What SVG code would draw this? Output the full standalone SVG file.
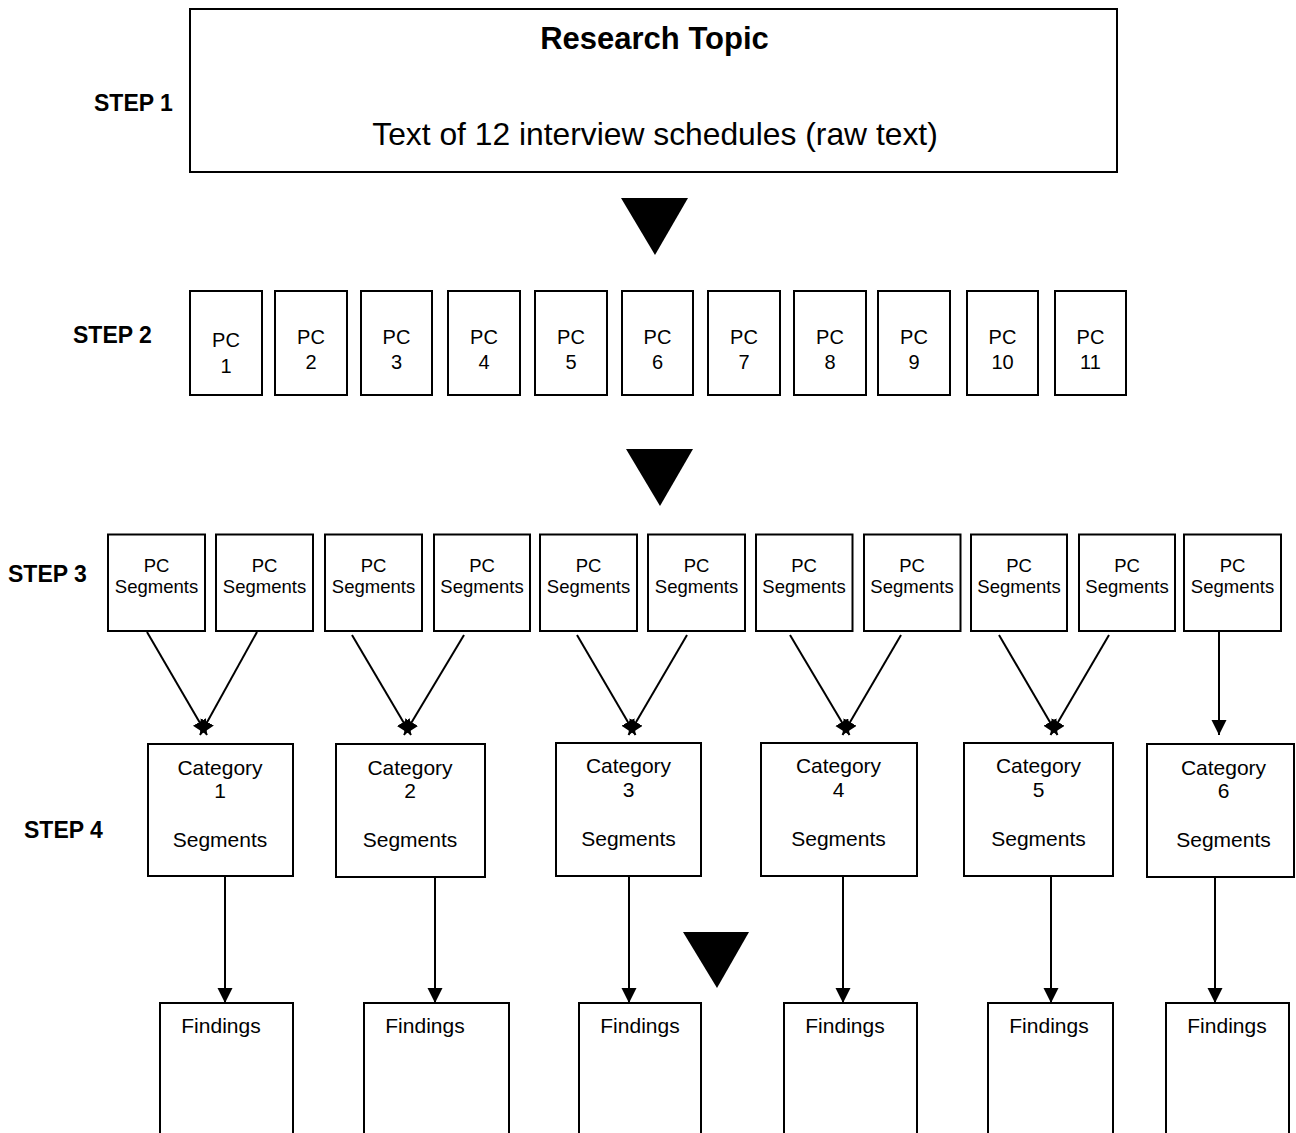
<svg xmlns="http://www.w3.org/2000/svg" width="1296" height="1133" viewBox="0 0 1296 1133">
<style>
.box{fill:#fff;stroke:#000;stroke-width:2}
.t{font-family:"Liberation Sans",Arial,sans-serif;fill:#000;text-anchor:middle}
.step{font-family:"Liberation Sans",Arial,sans-serif;font-weight:bold;font-size:23px;fill:#000}
.pc2{font-size:20px}
.pc3{font-size:18.5px}
.cat{font-size:21px}
.conn{stroke:#000;stroke-width:2;fill:none}
.big{fill:#000}
</style>
<defs>
<marker id="ah" markerUnits="userSpaceOnUse" markerWidth="16" markerHeight="16" refX="15" refY="7.5" orient="auto" viewBox="0 0 16 16">
<path d="M0,0 L15,7.5 L0,15 z" fill="#000"/>
</marker>
</defs>
<rect width="1296" height="1133" fill="#fff"/>

<text class="step" x="94" y="111">STEP 1</text>
<text class="step" x="73" y="343">STEP 2</text>
<text class="step" x="8" y="582">STEP 3</text>
<text class="step" x="24" y="838">STEP 4</text>

<g id="research-topic">
<rect class="box" x="190" y="9" width="927" height="163"/>
<text class="t" x="654.5" y="49" font-size="31" font-weight="bold">Research Topic</text>
<text class="t" x="655" y="145" font-size="31.8">Text of 12 interview schedules (raw text)</text>
</g>

<g id="flow-triangles">
<polygon class="big" points="621,198 688,198 655,255"/>
<polygon class="big" points="626,449 693,449 660,506"/>
<polygon class="big" points="683,932 749,932 717,988"/>
</g>

<g id="pc1"><rect class="box" x="190" y="291" width="72" height="104"/><text class="t pc2" x="226" y="347">PC</text><text class="t pc2" x="226" y="373">1</text></g>
<g id="pc2"><rect class="box" x="275" y="291" width="72" height="104"/><text class="t pc2" x="311" y="344">PC</text><text class="t pc2" x="311" y="369">2</text></g>
<g id="pc3"><rect class="box" x="361" y="291" width="71" height="104"/><text class="t pc2" x="396.5" y="344">PC</text><text class="t pc2" x="396.5" y="369">3</text></g>
<g id="pc4"><rect class="box" x="448" y="291" width="72" height="104"/><text class="t pc2" x="484" y="344">PC</text><text class="t pc2" x="484" y="369">4</text></g>
<g id="pc5"><rect class="box" x="535" y="291" width="72" height="104"/><text class="t pc2" x="571" y="344">PC</text><text class="t pc2" x="571" y="369">5</text></g>
<g id="pc6"><rect class="box" x="622" y="291" width="71" height="104"/><text class="t pc2" x="657.5" y="344">PC</text><text class="t pc2" x="657.5" y="369">6</text></g>
<g id="pc7"><rect class="box" x="708" y="291" width="72" height="104"/><text class="t pc2" x="744" y="344">PC</text><text class="t pc2" x="744" y="369">7</text></g>
<g id="pc8"><rect class="box" x="794" y="291" width="72" height="104"/><text class="t pc2" x="830" y="344">PC</text><text class="t pc2" x="830" y="369">8</text></g>
<g id="pc9"><rect class="box" x="878" y="291" width="72" height="104"/><text class="t pc2" x="914" y="344">PC</text><text class="t pc2" x="914" y="369">9</text></g>
<g id="pc10"><rect class="box" x="967" y="291" width="71" height="104"/><text class="t pc2" x="1002.5" y="344">PC</text><text class="t pc2" x="1002.5" y="369">10</text></g>
<g id="pc11"><rect class="box" x="1055" y="291" width="71" height="104"/><text class="t pc2" x="1090.5" y="344">PC</text><text class="t pc2" x="1090.5" y="369">11</text></g>

<g id="seg1"><rect class="box" x="108" y="534.5" width="97" height="96.5"/><text class="t pc3" x="156.5" y="572">PC</text><text class="t pc3" x="156.5" y="593">Segments</text></g>
<g id="seg2"><rect class="box" x="216" y="534.5" width="97" height="96.5"/><text class="t pc3" x="264.5" y="572">PC</text><text class="t pc3" x="264.5" y="593">Segments</text></g>
<g id="seg3"><rect class="box" x="325" y="534.5" width="97" height="96.5"/><text class="t pc3" x="373.5" y="572">PC</text><text class="t pc3" x="373.5" y="593">Segments</text></g>
<g id="seg4"><rect class="box" x="434" y="534.5" width="96" height="96.5"/><text class="t pc3" x="482" y="572">PC</text><text class="t pc3" x="482" y="593">Segments</text></g>
<g id="seg5"><rect class="box" x="540" y="534.5" width="97" height="96.5"/><text class="t pc3" x="588.5" y="572">PC</text><text class="t pc3" x="588.5" y="593">Segments</text></g>
<g id="seg6"><rect class="box" x="648" y="534.5" width="97" height="96.5"/><text class="t pc3" x="696.5" y="572">PC</text><text class="t pc3" x="696.5" y="593">Segments</text></g>
<g id="seg7"><rect class="box" x="756" y="534.5" width="96.5" height="96.5"/><text class="t pc3" x="804" y="572">PC</text><text class="t pc3" x="804" y="593">Segments</text></g>
<g id="seg8"><rect class="box" x="864" y="534.5" width="96.5" height="96.5"/><text class="t pc3" x="912" y="572">PC</text><text class="t pc3" x="912" y="593">Segments</text></g>
<g id="seg9"><rect class="box" x="971" y="534.5" width="96" height="96.5"/><text class="t pc3" x="1019" y="572">PC</text><text class="t pc3" x="1019" y="593">Segments</text></g>
<g id="seg10"><rect class="box" x="1079" y="534.5" width="96" height="96.5"/><text class="t pc3" x="1127" y="572">PC</text><text class="t pc3" x="1127" y="593">Segments</text></g>
<g id="seg11"><rect class="box" x="1184" y="534.5" width="97" height="96.5"/><text class="t pc3" x="1232.5" y="572">PC</text><text class="t pc3" x="1232.5" y="593">Segments</text></g>

<g id="cat1"><rect class="box" x="148" y="744" width="145" height="132"/><text class="t cat" x="220" y="775">Category</text><text class="t cat" x="220" y="798">1</text><text class="t cat" x="220" y="847">Segments</text></g>
<g id="cat2"><rect class="box" x="336" y="744" width="149" height="133"/><text class="t cat" x="410" y="775">Category</text><text class="t cat" x="410" y="798">2</text><text class="t cat" x="410" y="847">Segments</text></g>
<g id="cat3"><rect class="box" x="556" y="743" width="145" height="133"/><text class="t cat" x="628.5" y="773">Category</text><text class="t cat" x="628.5" y="797">3</text><text class="t cat" x="628.5" y="846">Segments</text></g>
<g id="cat4"><rect class="box" x="761" y="743" width="156" height="133"/><text class="t cat" x="838.5" y="773">Category</text><text class="t cat" x="838.5" y="797">4</text><text class="t cat" x="838.5" y="846">Segments</text></g>
<g id="cat5"><rect class="box" x="964" y="743" width="149" height="133"/><text class="t cat" x="1038.5" y="773">Category</text><text class="t cat" x="1038.5" y="797">5</text><text class="t cat" x="1038.5" y="846">Segments</text></g>
<g id="cat6"><rect class="box" x="1147" y="744" width="147" height="133"/><text class="t cat" x="1223.5" y="775">Category</text><text class="t cat" x="1223.5" y="798">6</text><text class="t cat" x="1223.5" y="847">Segments</text></g>

<g id="find1"><rect class="box" x="160" y="1003" width="133" height="200"/><text class="t cat" x="221" y="1033">Findings</text></g>
<g id="find2"><rect class="box" x="364" y="1003" width="145" height="200"/><text class="t cat" x="425" y="1033">Findings</text></g>
<g id="find3"><rect class="box" x="579" y="1003" width="122" height="200"/><text class="t cat" x="640" y="1033">Findings</text></g>
<g id="find4"><rect class="box" x="784" y="1003" width="133" height="200"/><text class="t cat" x="845" y="1033">Findings</text></g>
<g id="find5"><rect class="box" x="988" y="1003" width="125" height="200"/><text class="t cat" x="1049" y="1033">Findings</text></g>
<g id="find6"><rect class="box" x="1166" y="1003" width="123" height="200"/><text class="t cat" x="1227" y="1033">Findings</text></g>

<g id="connectors">
<line class="conn" x1="147" y1="632" x2="207" y2="735" marker-end="url(#ah)"/>
<line class="conn" x1="257" y1="632" x2="200" y2="735" marker-end="url(#ah)"/>
<line class="conn" x1="352" y1="635" x2="411" y2="735" marker-end="url(#ah)"/>
<line class="conn" x1="464" y1="635" x2="404" y2="735" marker-end="url(#ah)"/>
<line class="conn" x1="577" y1="635" x2="635.5" y2="735" marker-end="url(#ah)"/>
<line class="conn" x1="687" y1="635" x2="628.5" y2="735" marker-end="url(#ah)"/>
<line class="conn" x1="790" y1="635" x2="849.5" y2="735" marker-end="url(#ah)"/>
<line class="conn" x1="901" y1="635" x2="842.5" y2="735" marker-end="url(#ah)"/>
<line class="conn" x1="999" y1="635" x2="1057.5" y2="735" marker-end="url(#ah)"/>
<line class="conn" x1="1109" y1="635" x2="1050.5" y2="735" marker-end="url(#ah)"/>
<line class="conn" x1="1219" y1="631" x2="1219" y2="735" marker-end="url(#ah)"/>
<line class="conn" x1="225" y1="877" x2="225" y2="1003" marker-end="url(#ah)"/>
<line class="conn" x1="435" y1="877" x2="435" y2="1003" marker-end="url(#ah)"/>
<line class="conn" x1="629" y1="876" x2="629" y2="1003" marker-end="url(#ah)"/>
<line class="conn" x1="843" y1="876" x2="843" y2="1003" marker-end="url(#ah)"/>
<line class="conn" x1="1051" y1="876" x2="1051" y2="1003" marker-end="url(#ah)"/>
<line class="conn" x1="1215" y1="877" x2="1215" y2="1003" marker-end="url(#ah)"/>
</g>
</svg>
